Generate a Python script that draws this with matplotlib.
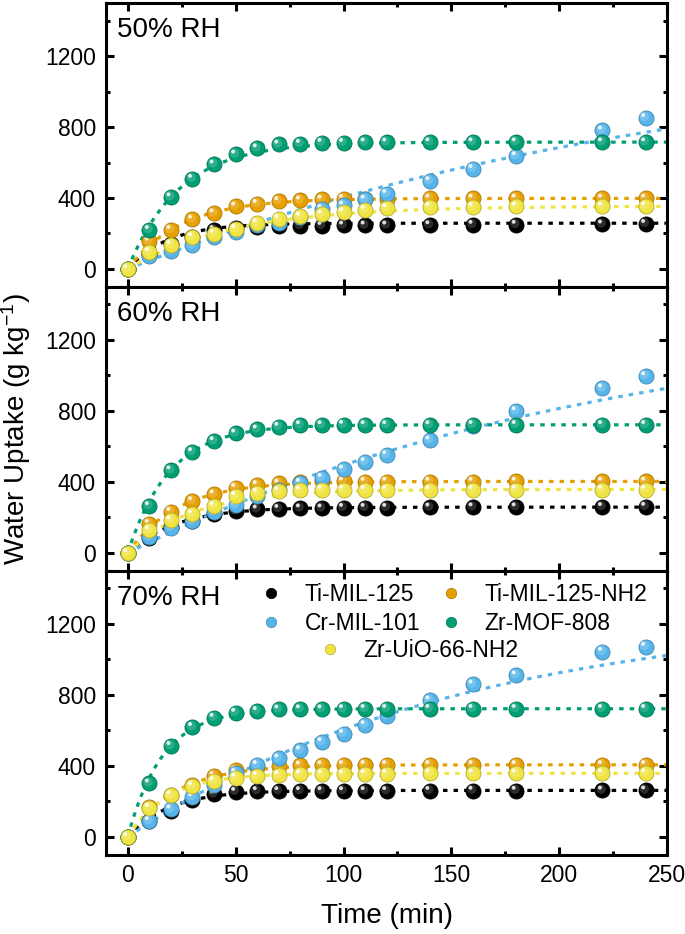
import numpy as np
import matplotlib
matplotlib.use("Agg")
import matplotlib.pyplot as plt
import matplotlib.transforms as mtransforms
from matplotlib.colors import to_rgb
from matplotlib.lines import Line2D

plt.rcParams['font.family'] = ['Liberation Sans', 'DejaVu Sans']
plt.rcParams['mathtext.fontset'] = 'custom'
plt.rcParams['mathtext.rm'] = 'Liberation Sans'
plt.rcParams['mathtext.it'] = 'Liberation Sans'

# ---------------- data ----------------
time_min = [0, 10, 20, 30, 40, 50, 60, 70, 80, 90, 100, 110, 120, 140, 160, 180, 220, 240]
materials = ['Ti-MIL-125', 'Ti-MIL-125-NH2', 'Cr-MIL-101', 'Zr-MOF-808', 'Zr-UiO-66-NH2']
colors = ['#000000', '#E69F00', '#56B4E9', '#009E73', '#F0E442']
panel_labels = ['50% RH', '60% RH', '70% RH']

# 50% RH
ti125_50 = [0, 85, 140, 182, 221, 231, 237, 240, 244, 244, 246, 246, 246, 248, 250, 250, 252, 255]
ti125nh2_50 = [0, 156, 221, 280, 315, 353, 368, 383, 387, 392, 396, 396, 396, 398, 398, 398, 398, 398]
crmil101_50 = [0, 73, 100, 133, 180, 208, 246, 258, 293, 340, 359, 392, 424, 496, 565, 637, 781, 852]
zrmof808_50 = [0, 221, 405, 509, 590, 646, 681, 702, 706, 712, 712, 714, 714, 715, 715, 715, 715, 715]
zruio66_50 = [0, 96, 137, 180, 199, 227, 259, 283, 297, 308, 321, 334, 344, 351, 351, 353, 353, 355]

# 60% RH
ti125_60 = [0, 86, 146, 180, 218, 237, 246, 249, 252, 252, 255, 255, 255, 257, 258, 258, 260, 261]
ti125nh2_60 = [0, 165, 233, 293, 331, 368, 383, 392, 400, 404, 404, 402, 402, 402, 402, 403, 403, 403]
crmil101_60 = [0, 90, 143, 180, 231, 270, 321, 353, 396, 424, 471, 513, 552, 635, 715, 800, 928, 997]
zrmof808_60 = [0, 265, 466, 569, 631, 674, 697, 712, 721, 721, 723, 721, 721, 721, 722, 722, 722, 722]
zruio66_60 = [0, 128, 184, 218, 265, 321, 340, 349, 353, 357, 357, 355, 355, 355, 356, 357, 357, 357]

# 70% RH
ti125_70 = [0, 90, 146, 207, 240, 255, 259, 259, 259, 259, 259, 259, 259, 260, 261, 261, 262, 263]
ti125nh2_70 = [0, 171, 237, 293, 344, 376, 391, 400, 403, 405, 406, 406, 406, 406, 406, 406, 406, 406]
crmil101_70 = [0, 90, 156, 225, 293, 362, 406, 443, 488, 535, 582, 631, 682, 770, 860, 911, 1044, 1072]
zrmof808_70 = [0, 302, 513, 620, 672, 700, 710, 719, 720, 720, 721, 722, 722, 722, 722, 722, 722, 722]
zruio66_70 = [0, 165, 235, 287, 315, 334, 344, 349, 353, 353, 353, 355, 356, 358, 358, 358, 359, 360]

# fitted first-order kinetic parameters q(t) = qe * (1 - exp(-k t))
fit_qe_50 = [258, 398, 1309, 715, 355]
fit_k_50 = [0.054, 0.0405, 0.0037, 0.0418, 0.0207]
fit_qe_60 = [258, 403, 1391, 722, 358]
fit_k_60 = [0.045, 0.0433, 0.0044, 0.0519, 0.0337]
fit_qe_70 = [262, 406, 1281, 722, 358]
fit_k_70 = [0.052, 0.045, 0.0064, 0.0619, 0.0537]

panels = [
    ([ti125_50, ti125nh2_50, crmil101_50, zrmof808_50, zruio66_50], fit_qe_50, fit_k_50),
    ([ti125_60, ti125nh2_60, crmil101_60, zrmof808_60, zruio66_60], fit_qe_60, fit_k_60),
    ([ti125_70, ti125nh2_70, crmil101_70, zrmof808_70, zruio66_70], fit_qe_70, fit_k_70),
]

# ---------------- figure ----------------
fig, axes = plt.subplots(3, 1, figsize=(6.85, 9.34), dpi=100, sharex=True)
fig.subplots_adjust(left=0.155, right=0.974, top=0.997, bottom=0.085, hspace=0)

def lighten(c, f):
    r, g, b = to_rgb(c)
    return (r + (1 - r) * f, g + (1 - g) * f, b + (1 - b) * f)

def darken(c, f):
    r, g, b = to_rgb(c)
    return (r * (1 - f), g * (1 - f), b * (1 - f))

t_fit = np.linspace(0, 250, 400)
tt = np.array(time_min)

for ax, (series, qe, kk), lab in zip(axes, panels, panel_labels):
    for i, (vals, col) in enumerate(zip(series, colors)):
        ax.plot(t_fit, qe[i] * (1 - np.exp(-kk[i] * t_fit)), color=col, lw=2.3,
                linestyle=(0, (1.4, 1.9)), zorder=2 + i * 0.1)
    for i, (vals, col) in enumerate(zip(series, colors)):
        z = 3 + i * 0.1
        ax.scatter(tt, vals, s=118, color=col, edgecolors=darken(col, 0.25),
                   linewidths=0.6, zorder=z)
        tr1 = mtransforms.offset_copy(ax.transData, fig=fig, x=-0.9, y=0.9, units='points')
        ax.scatter(tt, vals, s=45, color=lighten(col, 0.25), edgecolors='none',
                   alpha=0.7, zorder=z + 0.01, transform=tr1)
        tr2 = mtransforms.offset_copy(ax.transData, fig=fig, x=-1.8, y=2.0, units='points')
        ax.scatter(tt, vals, s=8, color='white', edgecolors='none',
                   alpha=0.85, zorder=z + 0.02, transform=tr2)

    ax.set_xlim(-10, 250)
    ax.set_ylim(-100, 1500)
    ax.set_yticks([0, 400, 800, 1200])
    ax.set_yticks([200, 600, 1000, 1400], minor=True)
    ax.set_xticks([0, 50, 100, 150, 200, 250])
    ax.set_xticks([25, 75, 125, 175, 225], minor=True)
    ax.tick_params(which='both', direction='in', top=True, right=True,
                   labelsize=16.5, width=2.2)
    ax.tick_params(which='major', length=6, pad=7.5)
    ax.tick_params(which='minor', length=3)
    for sp in ax.spines.values():
        sp.set_linewidth(2.2)
    ax.text(0.02, 0.95, lab, transform=ax.transAxes, ha='left', va='top', fontsize=20)

axes[-1].tick_params(axis='x', pad=6.5)
axes[-1].set_xlabel('Time (min)', fontsize=20, labelpad=12)
fig.text(0.024, 0.541, 'Water Uptake (g kg$^{\\mathregular{-1}}$)', rotation=90,
         ha='center', va='center', fontsize=20)

# legends
def handle(col):
    return Line2D([], [], linestyle='none', marker='o', markersize=7.5,
                  markerfacecolor=col, markeredgecolor=darken(col, 0.25), markeredgewidth=0.5)

ax3 = axes[-1]
h = [handle(c) for c in colors]
leg1 = ax3.legend([h[0], h[2], h[1], h[3]],
                  [materials[0], materials[2], materials[1], materials[3]],
                  ncol=2, frameon=False, fontsize=16.5, loc='upper left',
                  bbox_to_anchor=(0.274, 0.958), borderpad=0, borderaxespad=0,
                  handlelength=1.0, handletextpad=0.95, columnspacing=0.85,
                  labelspacing=0.3)
ax3.add_artist(leg1)
ax3.legend([h[4]], [materials[4]], frameon=False, fontsize=16.5, loc='upper left',
           bbox_to_anchor=(0.378, 0.76), borderpad=0, borderaxespad=0,
           handlelength=1.0, handletextpad=0.95)

fig.savefig('out.png', dpi=100)
